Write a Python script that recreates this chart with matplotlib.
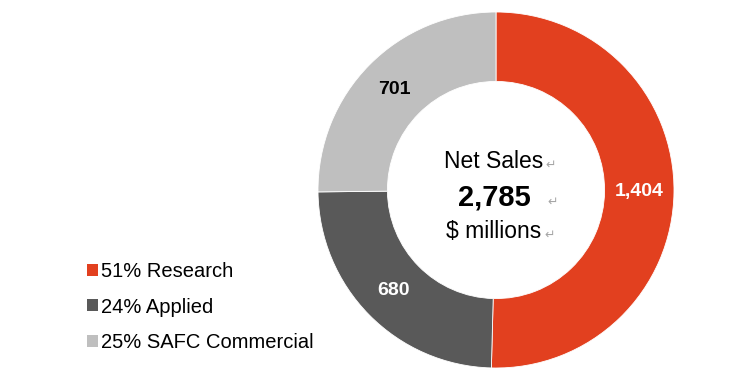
import matplotlib.pyplot as plt

# net sales by business unit, $ millions
units = ['Research', 'Applied', 'SAFC Commercial']
sales = [1404, 680, 701]
shares = [51, 24, 25]
colors = ['#E2401F', '#595959', '#BFBFBF']
label_colors = ['white', 'white', 'black']
total = 2785

fig = plt.figure(figsize=(7.30, 3.88), dpi=100)
ax = fig.add_axes([0, 0, 1, 1])

wedges, texts, autotexts = ax.pie(
    sales, colors=colors, startangle=90, counterclock=False,
    center=(496, 198), radius=178, frame=True,
    wedgeprops=dict(width=178 * 0.39, edgecolor='white', linewidth=0.6),
    autopct=lambda p: f'{p * sum(sales) / 100:,.0f}', pctdistance=0.805,
    textprops=dict(family='Liberation Sans', fontweight='bold', fontsize=14))
for t, c in zip(autotexts, label_colors):
    t.set_color(c)
ax.set_xlim(0, 730)
ax.set_ylim(0, 388)
ax.set_aspect('equal')
ax.axis('off')

# centre text
ax.text(494, 226, 'Net Sales', ha='center', va='center', fontsize=16.5,
        family='Liberation Sans')
ax.text(494, 191, f'{total:,}', ha='center', va='center', fontsize=21,
        fontweight='bold', family='Liberation Sans')
ax.text(494, 156, '$ millions', ha='center', va='center', fontsize=16.5,
        family='Liberation Sans')
for x, y in [(551, 223), (553, 186), (550, 153)]:
    ax.text(x, y, '\u21b5', ha='center', va='center', fontsize=9,
            color='#A6A6A6', family='DejaVu Sans')

leg = ax.legend(wedges, [f'{s}% {u}' for s, u in zip(shares, units)],
                loc='upper left', bbox_to_anchor=(87 / 730, 1 - 262 / 388),
                frameon=False, prop=dict(family='Liberation Sans', size=14.5),
                handlelength=0.55, handleheight=0.55, handletextpad=0.15,
                labelspacing=0.82, borderaxespad=0, borderpad=0)
for h in leg.legend_handles:
    h.set_edgecolor('none')

fig.savefig('out.png', dpi=100)
